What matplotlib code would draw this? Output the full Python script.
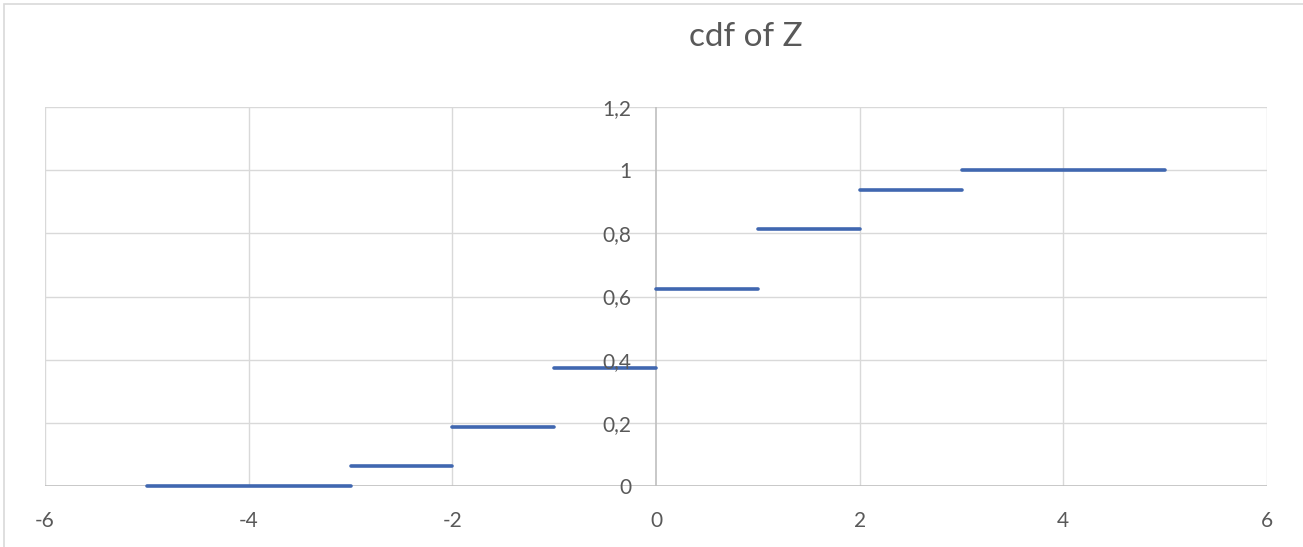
import numpy as np
import matplotlib.pyplot as plt
from matplotlib.patches import Rectangle

# step segments of the cdf
x_start = [-5, -3, -2, -1, 0, 1, 2, 3]
x_end = [-3, -2, -1, 0, 1, 2, 3, 5]
cdf_vals = [0, 0.0625, 0.1875, 0.375, 0.625, 0.8125, 0.9375, 1]

x_ticks = [-6, -4, -2, 0, 2, 4, 6]
y_ticks = [0, 0.2, 0.4, 0.6, 0.8, 1, 1.2]
y_labels = ['0', '0,2', '0,4', '0,6', '0,8', '1', '1,2']

plt.rcParams['font.family'] = ['Lato', 'DejaVu Sans']

fig = plt.figure(figsize=(13.03, 5.47), dpi=100)
ax = fig.add_axes([45 / 1303, 61 / 547, 1222 / 1303, 379 / 547])

# outer chart border (cut off at right / bottom)
fig.patches.append(Rectangle((4 / 1303, -0.1), 1.2, (543 / 547) + 0.1,
                             transform=fig.transFigure, fill=False,
                             edgecolor='#d9d9d9', linewidth=1.2))

grid_c = '#d9d9d9'
for xv in x_ticks:
    if xv != 0:
        ax.axvline(xv, color=grid_c, lw=1.0, zorder=0)
for yv in y_ticks:
    if yv != 0:
        ax.axhline(yv, color=grid_c, lw=1.0, zorder=0)
# axes crossing at zero
ax.axvline(0, color='#bfbfbf', lw=1.2, zorder=1)
ax.axhline(0, color='#bfbfbf', lw=1.2, zorder=1)

for xs, xe, yv in zip(x_start, x_end, cdf_vals):
    ax.plot([xs, xe], [yv, yv], color='#4067b0', lw=2.6,
            solid_capstyle='round', zorder=3, clip_on=False)

ax.set_xlim(-6, 6)
ax.set_ylim(0, 1.2)
for s in ax.spines.values():
    s.set_visible(False)
ax.set_xticks([])
ax.set_yticks([])

lab_c = '#595959'
for xv in x_ticks:
    ax.text(xv, -0.13, str(xv), ha='center', va='baseline', fontsize=15, color=lab_c)
for yv, lab in zip(y_ticks, y_labels):
    ax.text(-0.24, yv, lab, ha='right', va='center_baseline', fontsize=15, color=lab_c)

fig.text(746 / 1303, 1 - 46 / 547, 'cdf of Z', ha='center', va='baseline',
         fontsize=24, color=lab_c)

fig.savefig('out.png', dpi=100)
